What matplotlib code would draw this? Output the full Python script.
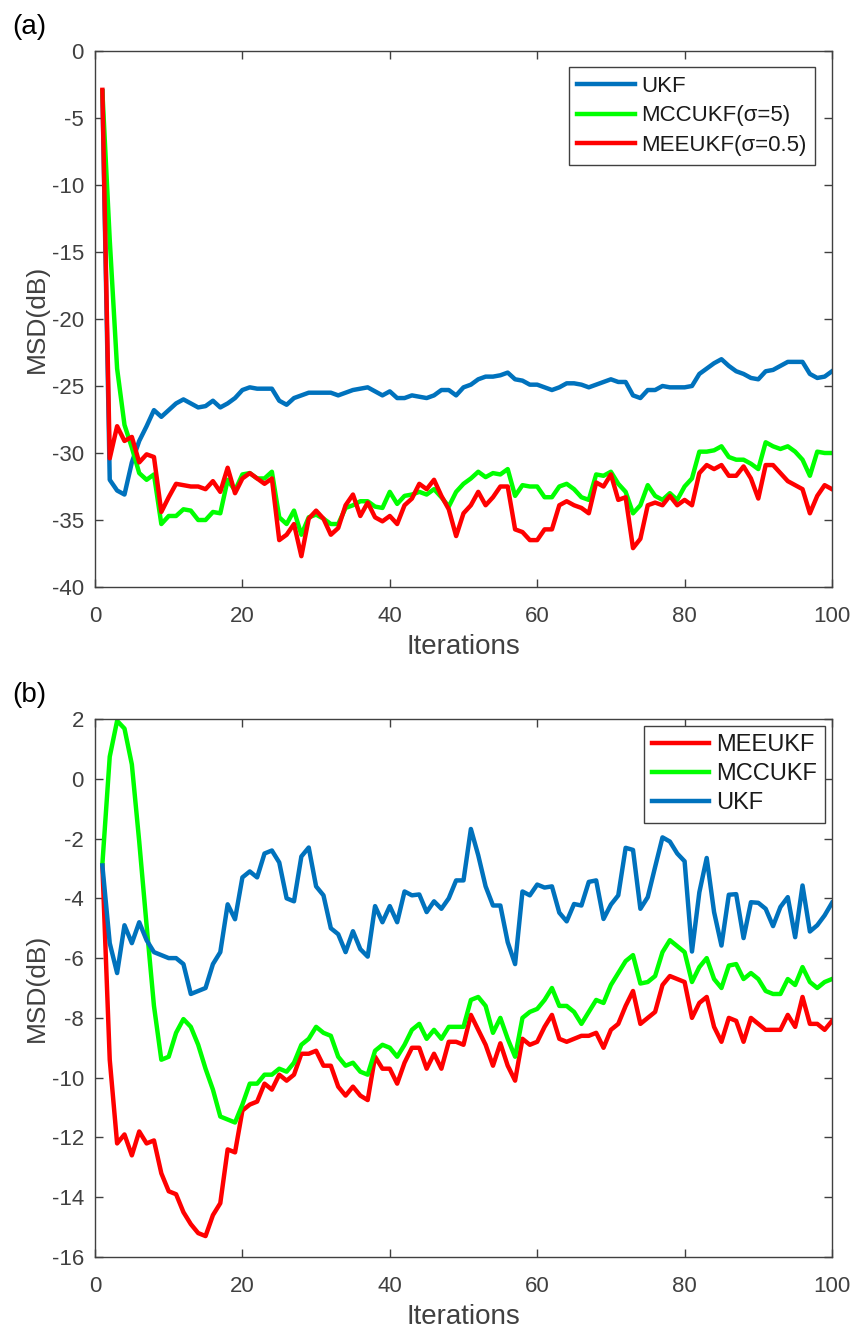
import numpy as np
import matplotlib
matplotlib.use("Agg")
import matplotlib.pyplot as plt

plt.rcParams['font.family'] = ['Liberation Sans', 'DejaVu Sans']
plt.rcParams['axes.unicode_minus'] = False

iters = np.arange(1, 101)

# ---- panel (a) ----
ukf_a = [-3.0, -32.0, -32.8, -33.1, -30.7, -29.1, -28.0, -26.8, -27.3, -26.8,
         -26.3, -26.0, -26.3, -26.6, -26.5, -26.1, -26.6, -26.3, -25.9, -25.3,
         -25.1, -25.2, -25.2, -25.2, -26.1, -26.4, -25.9, -25.7, -25.5, -25.5,
         -25.5, -25.5, -25.7, -25.5, -25.3, -25.2, -25.1, -25.4, -25.7, -25.4,
         -25.9, -25.9, -25.7, -25.8, -25.9, -25.7, -25.3, -25.3, -25.7, -25.1,
         -24.9, -24.5, -24.3, -24.3, -24.2, -24.0, -24.5, -24.6, -24.9, -24.9,
         -25.1, -25.3, -25.1, -24.8, -24.8, -24.9, -25.1, -24.9, -24.7, -24.5,
         -24.7, -24.7, -25.7, -25.9, -25.3, -25.3, -25.0, -25.1, -25.1, -25.1,
         -25.0, -24.1, -23.7, -23.3, -23.0, -23.5, -23.9, -24.1, -24.4, -24.5,
         -23.9, -23.8, -23.5, -23.2, -23.2, -23.2, -24.1, -24.4, -24.3, -23.9]
mcc_a = [-3.0, -14.1, -23.7, -27.9, -29.6, -31.5, -32.0, -31.6, -35.3, -34.7,
         -34.7, -34.2, -34.3, -35.0, -35.0, -34.4, -34.5, -32.0, -32.8, -31.6,
         -31.5, -31.9, -31.9, -31.4, -34.8, -35.3, -34.3, -36.1, -34.8, -34.6,
         -34.9, -35.3, -35.3, -34.1, -33.9, -33.6, -33.6, -34.0, -34.1, -32.9,
         -33.8, -33.2, -33.1, -32.9, -33.1, -32.7, -33.3, -34.0, -32.9, -32.3,
         -31.9, -31.4, -31.8, -31.5, -31.6, -31.2, -33.2, -32.4, -32.5, -32.5,
         -33.3, -33.3, -32.5, -32.3, -32.7, -33.3, -33.5, -31.6, -31.7, -31.4,
         -32.3, -32.9, -34.5, -33.9, -32.4, -33.2, -33.5, -33.0, -33.5, -32.5,
         -31.9, -29.9, -29.9, -29.8, -29.5, -30.3, -30.5, -30.5, -30.8, -31.2,
         -29.2, -29.5, -29.7, -29.5, -29.9, -30.5, -31.7, -29.9, -30.0, -30.0]
mee_a = [-2.9, -30.4, -28.0, -29.1, -28.8, -30.7, -30.1, -30.3, -34.4, -33.3,
         -32.3, -32.4, -32.5, -32.5, -32.7, -32.1, -32.9, -31.1, -33.0, -31.9,
         -31.5, -31.9, -32.3, -31.9, -36.5, -36.1, -35.3, -37.7, -34.9, -34.3,
         -34.9, -36.1, -35.6, -33.9, -33.1, -34.7, -33.7, -34.8, -35.1, -34.7,
         -35.3, -33.9, -33.4, -32.3, -32.7, -32.0, -33.2, -34.2, -36.2, -34.5,
         -33.9, -32.9, -33.9, -33.3, -32.5, -32.5, -35.7, -35.9, -36.5, -36.5,
         -35.7, -35.7, -33.9, -33.6, -33.9, -34.1, -34.5, -32.2, -32.5, -31.6,
         -33.5, -33.3, -37.1, -36.4, -33.9, -33.7, -33.9, -33.2, -33.9, -33.5,
         -33.9, -31.5, -30.9, -31.2, -30.9, -31.7, -31.7, -31.0, -31.9, -33.4,
         -30.9, -30.9, -31.5, -32.1, -32.4, -32.7, -34.5, -33.2, -32.4, -32.7]

# ---- panel (b) ----
ukf_b = [-2.9, -5.5, -6.5, -4.9, -5.5, -4.8, -5.4, -5.8, -5.9, -6.0,
         -6.0, -6.2, -7.2, -7.1, -7.0, -6.2, -5.8, -4.2, -4.7, -3.3,
         -3.1, -3.3, -2.5, -2.4, -2.8, -4.0, -4.1, -2.6, -2.3, -3.6,
         -3.9, -5.0, -5.2, -5.8, -5.1, -5.7, -5.95, -4.26, -4.8, -4.26,
         -4.8, -3.77, -3.9, -3.87, -4.46, -4.1, -4.35, -4.0, -3.4, -3.4,
         -1.68, -2.56, -3.6, -4.24, -4.24, -5.47, -6.2, -3.77, -3.9, -3.54,
         -3.64, -3.6, -4.48, -4.77, -4.19, -4.24, -3.45, -3.4, -4.69, -4.21,
         -3.9, -2.31, -2.38, -4.35, -3.96, -2.95, -1.96, -2.1, -2.5, -2.76,
         -5.78, -3.8, -2.65, -4.46, -5.58, -3.88, -3.86, -5.33, -4.13, -4.15,
         -4.35, -4.93, -4.29, -3.96, -5.3, -3.57, -5.11, -4.9, -4.57, -4.15]
mcc_b = [-2.86, 0.74, 1.94, 1.68, 0.48, -2.1, -4.9, -7.6, -9.4, -9.3,
         -8.5, -8.04, -8.3, -8.9, -9.7, -10.4, -11.3, -11.4, -11.5, -10.9,
         -10.2, -10.2, -9.9, -9.9, -9.7, -9.8, -9.5, -8.9, -8.7, -8.3,
         -8.5, -8.6, -9.3, -9.6, -9.5, -9.8, -9.9, -9.1, -8.9, -9.0,
         -9.3, -8.9, -8.4, -8.2, -8.7, -8.4, -8.7, -8.3, -8.3, -8.3,
         -7.4, -7.3, -7.6, -8.5, -8.0, -8.7, -9.3, -8.0, -7.8, -7.7,
         -7.4, -7.0, -7.6, -7.6, -7.8, -8.2, -7.8, -7.4, -7.5, -6.9,
         -6.5, -6.1, -5.9, -6.85, -6.8, -6.6, -5.8, -5.4, -5.6, -5.8,
         -6.8, -6.3, -6.0, -6.7, -7.0, -6.25, -6.2, -6.7, -6.5, -6.7,
         -7.1, -7.2, -7.2, -6.7, -6.9, -6.3, -6.8, -7.0, -6.8, -6.7]
mee_b = [-2.9, -9.4, -12.2, -11.9, -12.6, -11.8, -12.2, -12.1, -13.2, -13.8,
         -13.9, -14.5, -14.9, -15.2, -15.3, -14.6, -14.2, -12.4, -12.5, -11.1,
         -10.9, -10.8, -10.2, -10.4, -9.9, -10.1, -9.9, -9.2, -9.2, -9.1,
         -9.6, -9.6, -10.3, -10.6, -10.3, -10.6, -10.75, -9.3, -9.7, -9.7,
         -10.2, -9.5, -9.0, -9.0, -9.7, -9.2, -9.7, -8.8, -8.8, -8.9,
         -7.9, -8.4, -8.9, -9.6, -8.85, -9.6, -10.1, -8.7, -8.9, -8.8,
         -8.3, -7.9, -8.7, -8.8, -8.7, -8.6, -8.6, -8.5, -9.0, -8.4,
         -8.2, -7.6, -7.1, -8.2, -8.0, -7.8, -6.9, -6.6, -6.7, -6.8,
         -8.0, -7.5, -7.3, -8.3, -8.8, -8.0, -8.1, -8.8, -8.0, -8.2,
         -8.4, -8.4, -8.4, -7.9, -8.3, -7.3, -8.2, -8.2, -8.4, -8.1]

BLUE = '#0072BD'
GREEN = '#00FF00'
RED = '#FF0000'
GREY = '#404040'
FS = 16
LW = 3.2
W, H = 858, 1335

fig = plt.figure(figsize=(W / 100, H / 100), dpi=100)


def make_axes(top_px, bottom_px):
    left, right = 95, 832
    ax = fig.add_axes([left / W, 1 - bottom_px / H, (right - left) / W, (bottom_px - top_px) / H])
    for s in ax.spines.values():
        s.set_color(GREY)
        s.set_linewidth(1.0)
    ax.tick_params(direction='in', length=6, width=1.0, colors=GREY, labelsize=FS,
                   top=True, right=True)
    ax.tick_params(axis='x', pad=14)
    ax.tick_params(axis='y', pad=8)
    ax.set_xlim(0, 100)
    ax.set_xticks([0, 20, 40, 60, 80, 100])
    ax.set_xlabel('Iterations', fontsize=20, color=GREY, labelpad=5)
    ax.set_ylabel('MSD(dB)', fontsize=19, color=GREY, labelpad=2)
    return ax


def style_legend(leg):
    leg.get_frame().set_linewidth(1.0)
    for t in leg.get_texts():
        t.set_color('#1a1a1a')


# (a)
ax1 = make_axes(51, 587)
ax1.plot(iters, ukf_a, color=BLUE, lw=LW, label='UKF')
ax1.plot(iters, mcc_a, color=GREEN, lw=LW, label='MCCUKF(σ=5)')
ax1.plot(iters, mee_a, color=RED, lw=LW, label='MEEUKF(σ=0.5)')
ax1.set_ylim(-40, 0)
ax1.set_yticks(np.arange(-40, 1, 5))
leg = ax1.legend(loc='upper right', bbox_to_anchor=(0.977, 0.970), fontsize=FS,
                 fancybox=False, framealpha=1, edgecolor=GREY, handlelength=2.6,
                 handletextpad=0.25, borderpad=0.4, labelspacing=0.38, borderaxespad=0)
style_legend(leg)
fig.text(12 / W, 1 - 27 / H, '(a)', fontsize=20, va='center', ha='left')

# (b)
ax2 = make_axes(719, 1257)
ax2.plot(iters, mee_b, color=RED, lw=LW, label='MEEUKF')
ax2.plot(iters, mcc_b, color=GREEN, lw=LW, label='MCCUKF')
ax2.plot(iters, ukf_b, color=BLUE, lw=LW, label='UKF')
ax2.set_ylim(-16, 2)
ax2.set_yticks(np.arange(-16, 3, 2))
leg2 = ax2.legend(loc='upper right', bbox_to_anchor=(0.9905, 0.987), fontsize=17,
                  fancybox=False, framealpha=1, edgecolor=GREY, handlelength=2.4,
                  handletextpad=0.3, borderpad=0.35, labelspacing=0.3, borderaxespad=0)
style_legend(leg2)
fig.text(12 / W, 1 - 695 / H, '(b)', fontsize=20, va='center', ha='left')

fig.savefig('out.png', dpi=100)
